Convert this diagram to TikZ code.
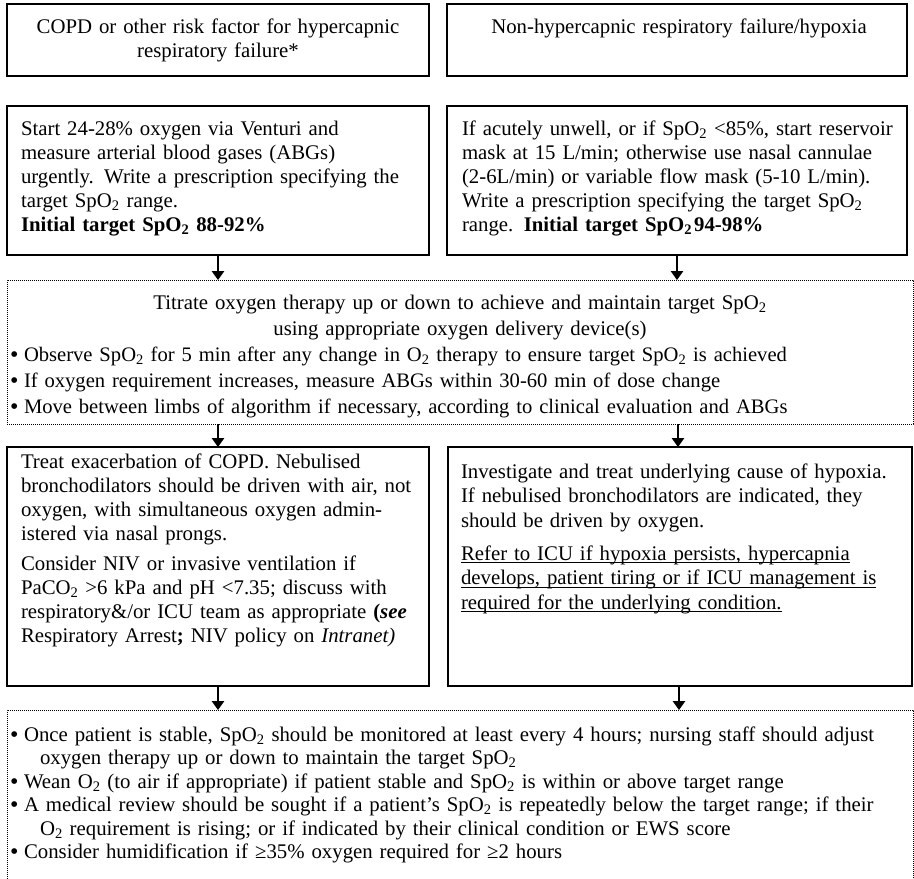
\documentclass[tikz,border=0pt]{standalone}
\usepackage{fontspec}
\setmainfont{Liberation Serif}
\usetikzlibrary{arrows.meta}
% chemistry shorthands
\newcommand\spo{SpO\textsubscript{2}}
\newcommand\otwo{O\textsubscript{2}}
% round bullet with fixed gap before the item text
\newcommand\bul{\leavevmode\makebox[14pt][l]{\raisebox{-1pt}{\fontsize{24}{24}\selectfont\textbullet}}}
% hanging indent for continuation lines of a bullet item
\newcommand\hang{\leavevmode\hspace*{30pt}}
% underline at a fixed depth below the baseline
\newcommand\ulline[1]{\leavevmode\sbox0{#1}\rlap{\rule[-3pt]{\wd0}{0.9pt}}\usebox0}
\begin{document}
\begin{tikzpicture}[x=1pt,y=-1pt,
  every node/.style={inner sep=0pt,outer sep=0pt},
  panel/.style={draw,line width=1.4pt},
  dotpanel/.style={draw,line width=0.9pt,dash pattern=on 0.9pt off 1.1pt},
  body/.style={font=\fontsize{20.8}{24}\selectfont,text width=880pt,align=left,anchor=base west},
  centred/.style={font=\fontsize{20.8}{24}\selectfont,text width=460pt,align=center,anchor=base},
  flow/.style={line width=1.3pt,-{Triangle[length=9pt,width=12.5pt]}}]
\clip (0,0) rectangle (914,879);
\fill[white] (0,0) rectangle (914,879);

% ---- boxes ----
\node[panel,minimum width=422pt,minimum height=72pt] (riskA) at (218,40) {};
\node[panel,minimum width=460pt,minimum height=72pt] (riskB) at (677,40) {};
\node[panel,minimum width=422pt,minimum height=149pt] (startA) at (218,180.5) {};
\node[panel,minimum width=460pt,minimum height=149pt] (startB) at (677,180.5) {};
\node[dotpanel,minimum width=906pt,minimum height=144pt] (titrate) at (460,352) {};
\node[panel,minimum width=422pt,minimum height=239pt] (treatA) at (218,566.5) {};
\node[panel,minimum width=464pt,minimum height=239pt] (treatB) at (680,566.5) {};
\node[dotpanel,minimum width=906pt,minimum height=200pt] (monitor) at (460,810) {};

% ---- texts ----
\node[centred] (riskAtext) at (218,33)
  {COPD or other risk factor for hypercapnic\\respiratory failure*};
\node[centred] (riskBtext) at (679,33)
  {Non-hypercapnic respiratory failure/hypoxia};

\node[body] (startAtext) at (21,135)
  {Start 24-28\% oxygen via Venturi and\\
   measure arterial blood gases (ABGs)\\
   urgently. Write a prescription specifying the\\
   target \spo{} range.\\
   \textbf{Initial target \spo{} 88-92\%}};
\node[body] (startBtext) at (462,135)
  {If acutely unwell, or if \spo{} <85\%, start reservoir\\
   mask at 15 L/min; otherwise use nasal cannulae\\
   (2-6L/min) or variable flow mask (5-10 L/min).\\
   Write a prescription specifying the target \spo\\
   range. \textbf{Initial target \spo\hspace{2pt}94-98\%}};

\node[centred,text width=880pt,font=\fontsize{20.8}{26}\selectfont] (titratehead) at (460,309)
  {Titrate oxygen therapy up or down to achieve and maintain target \spo\\
   using appropriate oxygen delivery device(s)};
\begin{scope}
  \clip (7,280) rectangle (913,417);
  \node[body,font=\fontsize{20.6}{26}\selectfont] (titratelist) at (10,361)
    {\bul Observe \spo{} for 5 min after any change in \otwo{} therapy to ensure target \spo{} is achieved\\
     \bul If oxygen requirement increases, measure ABGs within 30-60 min of dose change\\
     \bul Move between limbs of algorithm if necessary, according to clinical evaluation and ABGs};
\end{scope}

\node[body] (treatAtext) at (21,468)
  {Treat exacerbation of COPD. Nebulised\\
   bronchodilators should be driven with air, not\\
   oxygen, with simultaneous oxygen admin-\\
   istered via nasal prongs.\\[6pt]
   Consider NIV or invasive ventilation if\\
   PaCO\textsubscript{2} >6 kPa and pH <7.35; discuss with\\
   respiratory\&/or ICU team as appropriate \textbf{(\textit{see}}\\
   Respiratory Arrest\textbf{;} NIV policy on \textit{Intranet)}};
\node[body,font=\fontsize{20.8}{24.5}\selectfont] (treatBtext) at (461,478)
  {Investigate and treat underlying cause of hypoxia.\\
   If nebulised bronchodilators are indicated, they\\
   should be driven by oxygen.\\[8.5pt]
   \ulline{Refer to ICU if hypoxia persists, hypercapnia}\\
   \ulline{develops, patient tiring or if ICU management is}\\
   \ulline{required for the underlying condition.}};

\node[body,font=\fontsize{20.8}{23.5}\selectfont] (monitortext) at (10,741)
  {\bul Once patient is stable, \spo{} should be monitored at least every 4 hours; nursing staff should adjust\\
   \hang oxygen therapy up or down to maintain the target \spo\\
   \bul Wean \otwo{} (to air if appropriate) if patient stable and \spo{} is within or above target range\\
   \bul A medical review should be sought if a patient’s \spo{} is repeatedly below the target range; if their\\
   \hang \otwo{} requirement is rising; or if indicated by their clinical condition or EWS score\\
   \bul Consider humidification if ≥35\% oxygen required for ≥2 hours};

% ---- connectors ----
\draw[flow] (startA.south) -- (startA.south |- titrate.north);
\draw[flow] (startB.south) -- (startB.south |- titrate.north);
\draw[flow] (treatA.north |- titrate.south) -- (treatA.north);
\draw[flow] ([xshift=-2pt]treatB.north |- titrate.south) -- ([xshift=-2pt]treatB.north);
\draw[flow] (treatA.south) -- (treatA.south |- monitor.north);
\draw[flow] ([xshift=-1pt]treatB.south) -- ([xshift=-1pt]treatB.south |- monitor.north);
\end{tikzpicture}
\end{document}
